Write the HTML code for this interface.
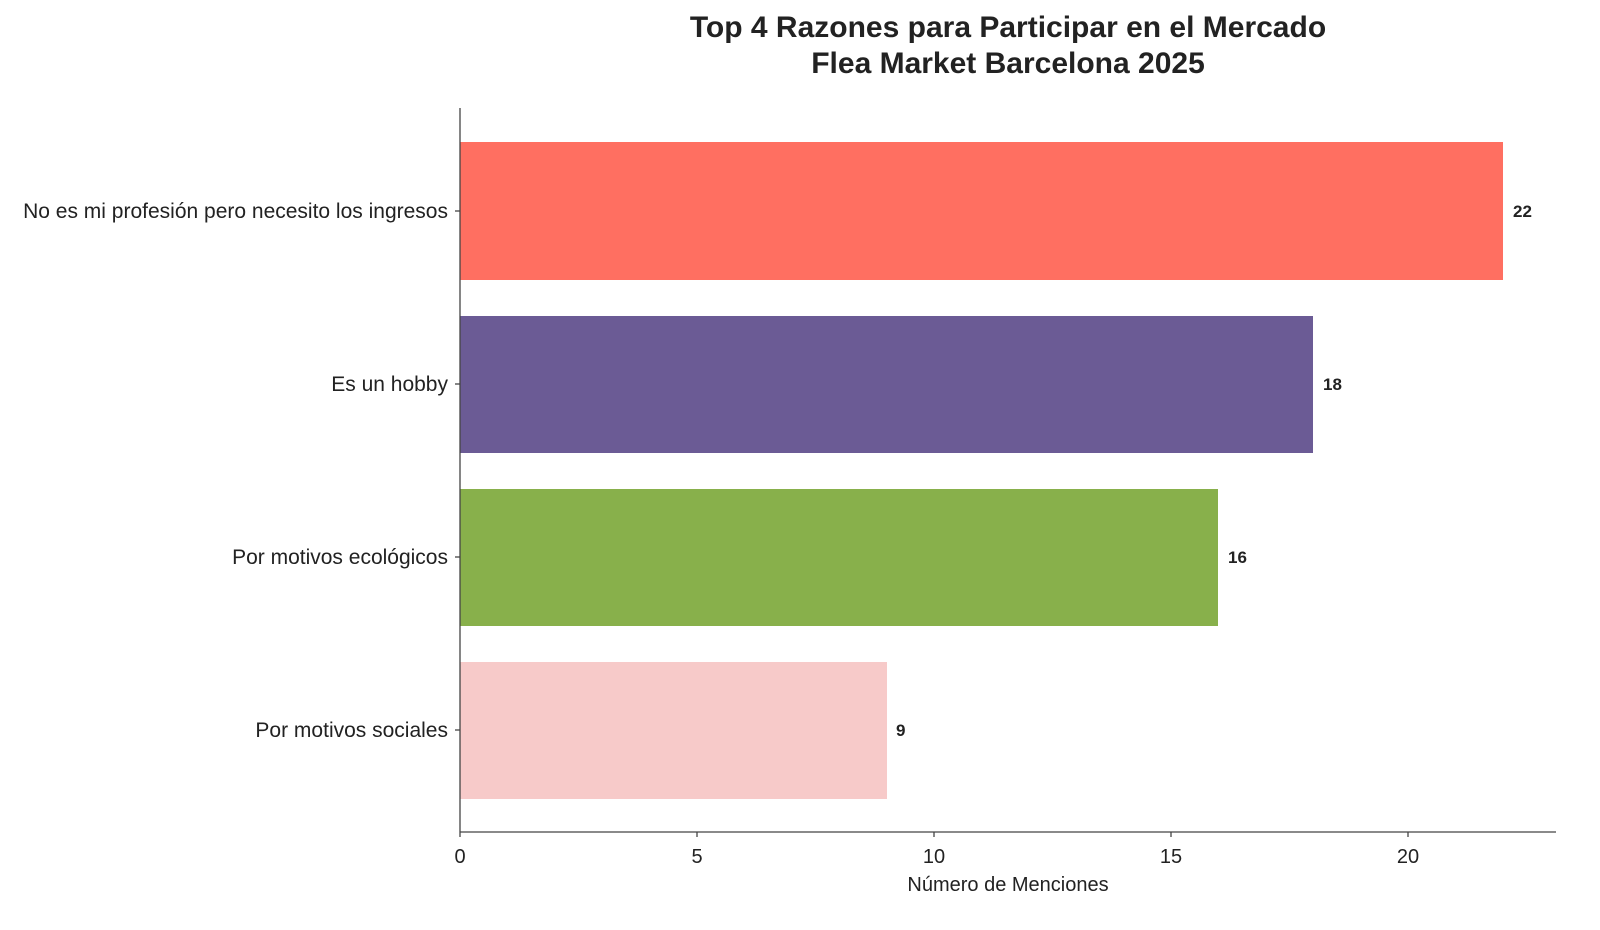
<!DOCTYPE html>
<html><head><meta charset="utf-8"><style>
body{margin:0;background:#fff}
svg text{font-family:"Liberation Sans",sans-serif;fill:#222}
</style></head><body>
<svg width="1600" height="925" viewBox="0 0 1600 925" xmlns="http://www.w3.org/2000/svg">
<rect width="1600" height="925" fill="#fff"/>
<text x="1008" y="37" font-size="30" font-weight="bold" text-anchor="middle">Top 4 Razones para Participar en el Mercado</text>
<text x="1008" y="73" font-size="30" font-weight="bold" text-anchor="middle">Flea Market Barcelona 2025</text>
<rect x="460" y="142" width="1043" height="138" fill="#FF6F61"/>
<rect x="460" y="316" width="853" height="137" fill="#6B5B95"/>
<rect x="460" y="489" width="758" height="137" fill="#88B04B"/>
<rect x="460" y="662" width="427" height="137" fill="#F7CAC9"/>
<g font-size="17" font-weight="bold">
<text x="1513" y="217">22</text>
<text x="1323" y="390">18</text>
<text x="1228" y="563">16</text>
<text x="896" y="736">9</text>
</g>
<line x1="460" y1="108" x2="460" y2="832" stroke="#444" stroke-width="1.3"/>
<line x1="460" y1="832" x2="1556" y2="832" stroke="#444" stroke-width="1.3"/>
<g stroke="#444" stroke-width="1.3">
<line x1="455" y1="211" x2="460" y2="211"/><line x1="455" y1="384" x2="460" y2="384"/>
<line x1="455" y1="557" x2="460" y2="557"/><line x1="455" y1="730" x2="460" y2="730"/>
<line x1="460" y1="832" x2="460" y2="837"/><line x1="697" y1="832" x2="697" y2="837"/>
<line x1="934" y1="832" x2="934" y2="837"/><line x1="1171" y1="832" x2="1171" y2="837"/>
<line x1="1408" y1="832" x2="1408" y2="837"/>
</g>
<g font-size="21" text-anchor="end">
<text x="448" y="218">No es mi profesión pero necesito los ingresos</text>
<text x="448" y="391">Es un hobby</text>
<text x="448" y="564">Por motivos ecológicos</text>
<text x="448" y="737">Por motivos sociales</text>
</g>
<g font-size="20" text-anchor="middle">
<text x="460" y="863">0</text><text x="697" y="863">5</text><text x="934" y="863">10</text>
<text x="1171" y="863">15</text><text x="1408" y="863">20</text>
<text x="1008" y="891">Número de Menciones</text>
</g>
</svg>
</body></html>
